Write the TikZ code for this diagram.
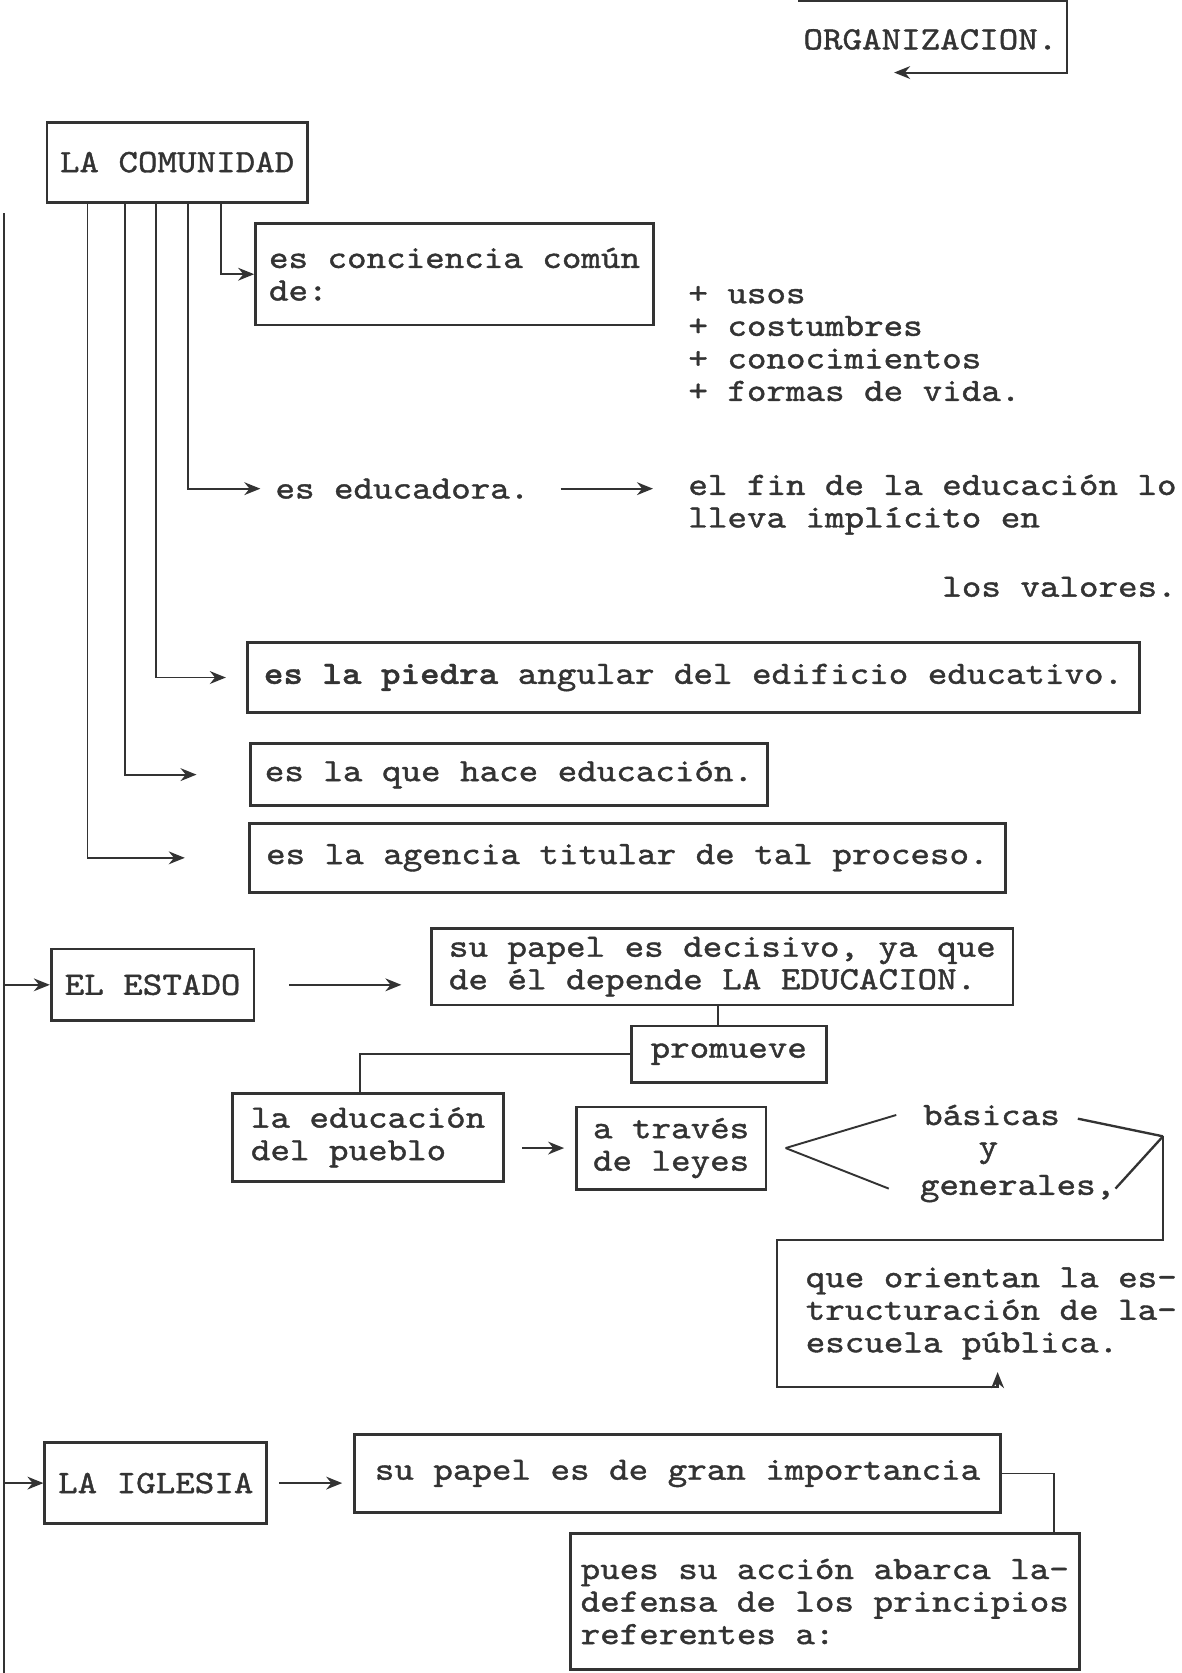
\documentclass[tikz,border=0pt]{standalone}
\usepackage{fontspec}
\setmonofont{lmmono10-regular.otf}[FakeStretch=1.143, RawFeature={embolden=1.2}, BoldFont=lmmonolt10-bold.otf, BoldFeatures={FakeStretch=1.143}]
\usetikzlibrary{arrows.meta}
\tikzset{>={Stealth[length=15pt,width=12pt]}}
\definecolor{tinta}{HTML}{333333}

\begin{document}
\begin{tikzpicture}[x=1pt, y=-1pt, font=\ttfamily\fontsize{30.5pt}{30.5pt}\selectfont, color=tinta,
  caja/.style={draw, line width=2.6pt, align=left, inner sep=0pt},
  texto/.style={align=left, inner sep=0pt, anchor=west},
  linea/.style={line width=1.8pt},
  flecha/.style={linea, ->}]
\useasboundingbox (0,0) rectangle (1107,1568);

% cabecera
\node (org) at (872,37) {ORGANIZACION.};
\draw[flecha] (748,1) -- (1000,1) -- (1000,68) -- (838,68);

% la comunidad
\node[caja, minimum width=244pt, minimum height=75pt] (comunidad) at (166,152) {LA COMUNIDAD};
\node[caja, minimum width=373pt, minimum height=95pt] (conciencia) at (426,257) {es conciencia común\\de:};
\node[texto] (usos) at (645,322) {+ usos\\+ costumbres\\+ conocimientos\\+ formas de vida.};
\node[texto] (educadora) at (258,458) {es educadora.};
\node[texto] (fin) at (645,473) {el fin de la educación lo\\lleva implícito en};
\node[texto] (valores) at (883,550) {los valores.};
\node[caja, minimum width=836pt, minimum height=65pt] (piedra) at (650,635) {\textbf{es la piedra} angular del edificio educativo.};
\node[caja, minimum width=485pt, minimum height=58pt] (hace) at (477,726) {es la que hace educación.};
\node[caja, minimum width=709pt, minimum height=65pt] (agencia) at (588,804) {es la agencia titular de tal proceso.};

\draw[flecha] ([xshift=41pt]comunidad.south) |- (conciencia.west);
\draw[flecha, shorten >=14pt] ([xshift=10pt]comunidad.south) |- (educadora.west);
\draw[flecha, shorten >=19pt] ([xshift=-20pt]comunidad.south) |- (piedra.west);
\draw[flecha, shorten >=49pt] ([xshift=-49pt]comunidad.south) |- (hace.west);
\draw[flecha, shorten >=59pt] ([xshift=-84pt]comunidad.south) |- (agencia.west);
\draw[flecha, shorten <=29pt, shorten >=33pt] (educadora.east) -- (educadora.east -| fin.west);

% el estado
\coordinate (tope) at (4,200);
\coordinate (pie) at (4,1568);
\draw[linea] (tope) -- (pie);
\node[caja, minimum width=190pt, minimum height=67pt] (estado) at (143,923) {EL ESTADO};
\draw[flecha] (tope |- estado.west) -- (estado.west);
\node[caja, minimum width=545pt, minimum height=72pt] (decisivo) at (677,906) {su papel es decisivo, ya que\\de él depende LA EDUCACION.};
\draw[flecha, shorten <=32pt, shorten >=27pt] (estado.east) -- (estado.east -| decisivo.west);
\node[caja, minimum width=183pt, minimum height=53pt] (promueve) at (683,988) {promueve};
\draw[linea] ([xshift=-10pt]promueve.north) -- ([xshift=-10pt]promueve.north |- decisivo.south);
\node[caja, minimum width=254pt, minimum height=83pt] (pueblo) at (345,1066) {la educación\\del pueblo};
\draw[linea] (promueve.west) -| ([xshift=-8pt]pueblo.north);
\node[caja, minimum width=178pt, minimum height=77pt] (leyes) at (629,1076) {a través\\de leyes};
\draw[flecha, shorten <=16pt, shorten >=10pt] (pueblo.east |- leyes.west) -- (leyes.west);

\coordinate (pico) at ([xshift=17pt]leyes.east);
\node[texto] (basicas) at (865,1045) {básicas};
\node[texto] (ylet) at (917,1081) {y};
\node[texto] (generales) at (862,1114) {generales,};
\draw[linea] (pico) -- ([xshift=-25pt]basicas.west);
\draw[linea] (pico) -- ([xshift=-29pt]generales.west);
\coordinate (esquina) at (1090,1065);
\draw[linea, line width=2.2pt, shorten <=17pt] (basicas.east) -- (esquina);
\draw[linea, line width=2.2pt] (generales.east) -- (esquina);
\node[texto] (orientan) at (755,1231) {que orientan la es-\\tructuración de la-\\escuela pública.};
\draw[flecha, line width=2.2pt] (esquina) -- (1090,1162) -- (728,1162) -- (728,1300) -- (935,1300) -- (935,1286);

% la iglesia
\node[caja, minimum width=208pt, minimum height=76pt] (iglesia) at (146,1390) {LA IGLESIA};
\draw[flecha] (tope |- iglesia.west) -- (iglesia.west);
\node[caja, minimum width=606pt, minimum height=73pt] (importancia) at (635,1381) {su papel es de gran importancia};
\draw[flecha, shorten <=10pt, shorten >=10pt] (iglesia.east) -- (iglesia.east -| importancia.west);
\node[caja, minimum width=477pt, minimum height=127pt] (abarca) at (773,1501) {pues su acción abarca la-\\defensa de los principios\\referentes a:};
\draw[linea] (importancia.east) -| ([xshift=215pt]abarca.north);
\end{tikzpicture}
\end{document}
